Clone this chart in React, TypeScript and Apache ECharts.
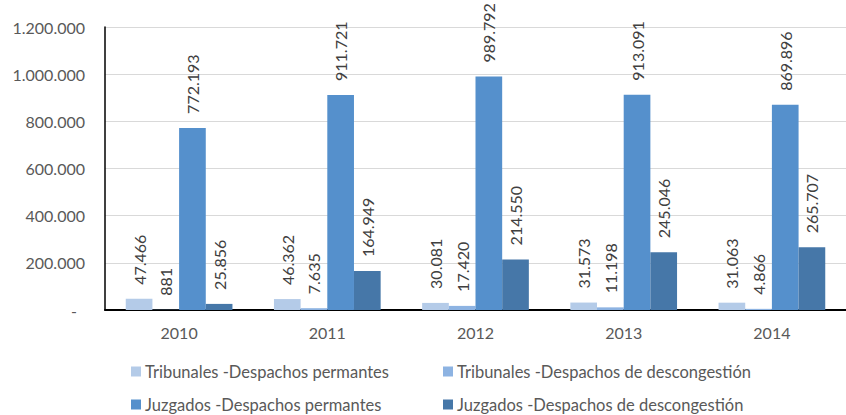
import React, { useEffect, useRef } from "react";
import * as echarts from "echarts";

const years = ["2010", "2011", "2012", "2013", "2014"];
const tribPerm = [47466, 46362, 30081, 31573, 31063];
const tribDesc = [881, 7635, 17420, 11198, 4866];
const juzPerm = [772193, 911721, 989792, 913091, 869896];
const juzDesc = [25856, 164949, 214550, 245046, 265707];

const seriesNames = [
  "Tribunales -Despachos permantes",
  "Tribunales -Despachos de descongestión",
  "Juzgados -Despachos permantes",
  "Juzgados -Despachos de descongestión",
];
const colors = ["#b4cbe8", "#8db3e2", "#5590cc", "#4677a8"];

const FONT = "Lato";

function fmt(n: number): string {
  return String(Math.round(n)).replace(/\B(?=(\d{3})+(?!\d))/g, ".");
}

export default function App() {
  const ref = useRef<HTMLDivElement>(null);
  useEffect(() => {
    document.body.style.margin = "0";
    if (!ref.current) return;
    const chart = echarts.init(ref.current, null, { renderer: "svg" });
    const datas = [tribPerm, tribDesc, juzPerm, juzDesc];
    const legendPos = [
      { left: 131, top: 363 },
      { left: 443, top: 363 },
      { left: 131, top: 396 },
      { left: 443, top: 396 },
    ];
    chart.setOption({
      animation: false,
      textStyle: { fontFamily: FONT },
      grid: { left: 105, top: 27, width: 751, height: 283, containLabel: false },
      legend: seriesNames.map((name, i) => ({
        data: [name],
        left: legendPos[i].left,
        top: legendPos[i].top,
        icon: "rect",
        itemWidth: 10,
        itemHeight: 10,
        itemGap: 0,
        padding: 0,
        selectedMode: false,
        textStyle: { fontFamily: FONT, fontSize: 16.5, color: "#595959", padding: [0, 0, 0, -1] },
      })),
      xAxis: {
        type: "category",
        data: years,
        axisLine: { show: true, lineStyle: { color: "#000", width: 2 } },
        axisTick: { show: false },
        axisLabel: { color: "#595959", fontSize: 16, fontFamily: FONT, margin: 14 },
      },
      yAxis: {
        type: "value",
        min: 0,
        max: 1200000,
        interval: 200000,
        axisLine: { show: true, lineStyle: { color: "#000", width: 1.5 } },
        axisTick: { show: false },
        splitLine: { show: true, lineStyle: { color: "#d9d9d9", width: 1 } },
        axisLabel: {
          color: "#595959",
          fontSize: 16,
          fontFamily: FONT,
          margin: 20,
          formatter: (v: number) => (v === 0 ? "{d|-}" : fmt(v)),
          rich: { d: { color: "#595959", fontSize: 16, fontFamily: FONT, padding: [0, 8, 0, 0] } },
        },
      },
      series: seriesNames.map((name, i) => ({
        name,
        type: "bar",
        data: datas[i],
        barGap: "0%",
        barCategoryGap: "28%",
        itemStyle: { color: colors[i] },
        label: {
          show: true,
          position: "top",
          rotate: 90,
          align: "left",
          verticalAlign: "middle",
          distance: 14,
          color: "#404040",
          fontSize: 16,
          fontFamily: FONT,
          formatter: (p: any) => fmt(p.value),
        },
      })),
    });
    return () => chart.dispose();
  }, []);
  return <div ref={ref} style={{ width: 846, height: 415, overflow: "hidden" }} />;
}
